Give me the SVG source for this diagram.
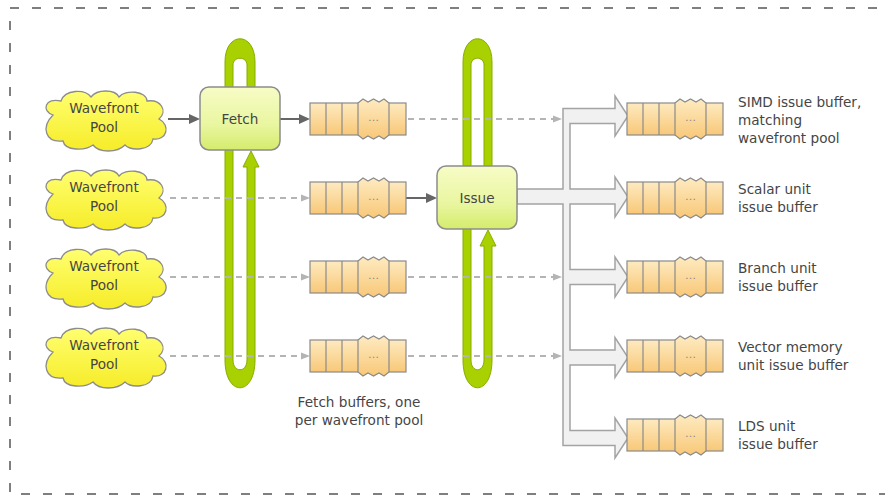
<svg xmlns="http://www.w3.org/2000/svg" xmlns:xlink="http://www.w3.org/1999/xlink" width="885" height="498" viewBox="0 0 885 498">
  <style>
    .lbl { font-family: "DejaVu Sans", "Liberation Sans", sans-serif; font-size: 13.6px; fill: #454545; }
    .ctr { text-anchor: middle; }
    .solid { stroke: #666; stroke-width: 2; fill: none; marker-end: url(#ah); }
    .dash { stroke: #b4b4b4; stroke-width: 2; stroke-dasharray: 6 5; fill: none; marker-end: url(#ahd); }
    .loop { fill: #a9d000; stroke: #86ad00; stroke-width: 1; }
    .box { fill: url(#gBox); stroke: #8c8c8c; stroke-width: 1.5; }
    .cloud { fill: url(#gCloud); stroke: #8c8c8c; stroke-width: 1.3; }
    .tree { fill: #f1f1f1; stroke: #a3a3a3; stroke-width: 1.5; stroke-linejoin: miter; }
    .cell { fill: url(#gBuf); stroke: #8a8a8a; stroke-width: 1.2; }
    .dots { font-family: "DejaVu Sans", sans-serif; font-size: 11px; fill: #8a8a8a; text-anchor: middle; }
  </style>
  <defs>
    <linearGradient id="gBox" x1="0" y1="0" x2="0" y2="1">
      <stop offset="0" stop-color="#f7fcc6"/>
      <stop offset="0.6" stop-color="#e9f6a0"/>
      <stop offset="1" stop-color="#d4ec6c"/>
    </linearGradient>
    <linearGradient id="gCloud" x1="0" y1="0" x2="0" y2="1">
      <stop offset="0" stop-color="#ffff70"/>
      <stop offset="1" stop-color="#f6ec28"/>
    </linearGradient>
    <linearGradient id="gBuf" x1="0" y1="0" x2="0" y2="1">
      <stop offset="0" stop-color="#feeac0"/>
      <stop offset="1" stop-color="#f8c878"/>
    </linearGradient>
    <marker id="ah" markerUnits="userSpaceOnUse" markerWidth="11" markerHeight="10" refX="7" refY="5" orient="auto">
      <path d="M0,0 L11,5 L0,10 Z" fill="#666"/>
    </marker>
    <marker id="ahd" markerUnits="userSpaceOnUse" markerWidth="9" markerHeight="8" refX="5" refY="4" orient="auto">
      <path d="M0,0.5 L9,4 L0,7.5 Z" fill="#b4b4b4"/>
    </marker>
    <!-- queue buffer: plain cells, a torn middle section, last cell -->
    <g id="buf">
      <rect class="cell" x="0" y="0" width="96" height="32"/>
      <line x1="16" y1="0" x2="16" y2="32" stroke="#8a8a8a" stroke-width="1.2"/>
      <line x1="32" y1="0" x2="32" y2="32" stroke="#8a8a8a" stroke-width="1.2"/>
      <polygon class="cell" points="48,0 53,-4 58,-1 63.5,-4 69,-1 74,-4 79,0 79,32 74,36 69,33 63.5,36 58,33 53,36 48,32"/>
      <text class="dots" x="63.5" y="17.5">…</text>
    </g>
    <path id="cloudShape" d="M-52,-6 C-64,-10 -60,-24 -44,-20 C-40,-32 -20,-32 -14,-24 C-8,-32 10,-32 14,-24 C20,-32 42,-30 42,-20 C56,-22 63,-10 54,-2 C66,4 62,20 48,18 C46,30 26,30 20,24 C12,32 -6,32 -12,24 C-20,30 -40,30 -42,20 C-60,22 -64,6 -52,-6 Z"/>
  </defs>

  <rect fill="#ffffff" x="0" y="0" width="885" height="498"/>
  <!-- outer frame -->
  <rect x="10" y="8" width="900" height="486" fill="none" stroke="#555" stroke-width="1.5" stroke-dasharray="9 13"/>

  <!-- recirculating loops behind the Fetch and Issue stages -->
  <g id="fetch-loop">
    <path class="loop" d="M255,110 L255,62 C255,31 225,31 225,62 L225,360 C225,397 255,397 255,360 L255,167 L259,167 L251,151 L243,167 L247,167 L247,360 C247,373 233,373 233,360 L233,65 C233,56 247,56 247,65 L247,110 Z"/>
  </g>
  <g id="issue-loop">
    <path class="loop" d="M492,185 L492,62 C492,31 463,31 463,62 L463,360 C463,397 492,397 492,360 L492,246 L496,246 L488,230 L480,246 L484,246 L484,360 C484,373 471,373 471,360 L471,65 C471,56 484,56 484,65 L484,185 Z"/>
  </g>

  <g id="connectors">
    <!-- row 1 -->
    <path class="solid" d="M168,119 L196,119"/>
    <path class="solid" d="M280,119 L306,119"/>
    <path class="dash" d="M408,119 L558,119"/>
    <!-- row 2 -->
    <path class="dash" d="M170,198 L306,198"/>
    <path class="solid" d="M406,198 L433,198"/>
    <!-- row 3 -->
    <path class="dash" d="M170,277 L306,277"/>
    <path class="dash" d="M408,277 L558,277"/>
    <!-- row 4 -->
    <path class="dash" d="M170,356 L306,356"/>
    <path class="dash" d="M408,356 L558,356"/>
    <!-- issue distribution tree -->
    <path class="tree" d="M517,189 L563,189 L563,108.5 L615,108.5 L615,96 L628,116 L615,136 L615,123.5 L570,123.5 L570,189 L615,189 L615,177 L628,197 L615,217 L615,204 L570,204 L570,269.5 L615,269.5 L615,257 L628,277 L615,297 L615,284.5 L570,284.5 L570,350 L615,350 L615,337.5 L628,357.5 L615,377.5 L615,365 L570,365 L570,430.5 L615,430.5 L615,418 L628,438 L615,458 L615,445.5 L563,445.5 L563,204 L517,204 Z"/>
  </g>

  <!-- wavefront pools -->
  <g id="pool-1">
    <use xlink:href="#cloudShape" class="cloud" transform="translate(105,121)"/>
    <text class="lbl ctr" x="104" y="113">Wavefront</text>
    <text class="lbl ctr" x="104" y="132">Pool</text>
  </g>
  <g id="pool-2">
    <use xlink:href="#cloudShape" class="cloud" transform="translate(105,200)"/>
    <text class="lbl ctr" x="104" y="192">Wavefront</text>
    <text class="lbl ctr" x="104" y="211">Pool</text>
  </g>
  <g id="pool-3">
    <use xlink:href="#cloudShape" class="cloud" transform="translate(105,279)"/>
    <text class="lbl ctr" x="104" y="271">Wavefront</text>
    <text class="lbl ctr" x="104" y="290">Pool</text>
  </g>
  <g id="pool-4">
    <use xlink:href="#cloudShape" class="cloud" transform="translate(105,358)"/>
    <text class="lbl ctr" x="104" y="350">Wavefront</text>
    <text class="lbl ctr" x="104" y="369">Pool</text>
  </g>

  <!-- pipeline stages -->
  <g id="fetch">
    <rect class="box" x="200" y="87" width="80" height="63" rx="9"/>
    <text class="lbl ctr" x="240" y="124">Fetch</text>
  </g>
  <g id="issue">
    <rect class="box" x="437" y="166" width="80" height="63" rx="9"/>
    <text class="lbl ctr" x="477" y="203">Issue</text>
  </g>

  <!-- fetch buffers -->
  <g id="fetch-buf-1"><use xlink:href="#buf" x="310" y="103"/></g>
  <g id="fetch-buf-2"><use xlink:href="#buf" x="310" y="182"/></g>
  <g id="fetch-buf-3"><use xlink:href="#buf" x="310" y="261"/></g>
  <g id="fetch-buf-4"><use xlink:href="#buf" x="310" y="340"/></g>
  <g id="fetch-buf-caption">
    <text class="lbl ctr" x="359" y="407">Fetch buffers, one</text>
    <text class="lbl ctr" x="359" y="425">per wavefront pool</text>
  </g>

  <!-- issue buffers -->
  <g id="simd-buf">
    <use xlink:href="#buf" x="627" y="103"/>
    <text class="lbl" x="738" y="107">SIMD issue buffer,</text>
    <text class="lbl" x="738" y="125">matching</text>
    <text class="lbl" x="738" y="143">wavefront pool</text>
  </g>
  <g id="scalar-buf">
    <use xlink:href="#buf" x="627" y="182"/>
    <text class="lbl" x="738" y="194">Scalar unit</text>
    <text class="lbl" x="738" y="212">issue buffer</text>
  </g>
  <g id="branch-buf">
    <use xlink:href="#buf" x="627" y="261"/>
    <text class="lbl" x="738" y="273">Branch unit</text>
    <text class="lbl" x="738" y="291">issue buffer</text>
  </g>
  <g id="vmem-buf">
    <use xlink:href="#buf" x="627" y="340"/>
    <text class="lbl" x="738" y="352">Vector memory</text>
    <text class="lbl" x="738" y="370">unit issue buffer</text>
  </g>
  <g id="lds-buf">
    <use xlink:href="#buf" x="627" y="419"/>
    <text class="lbl" x="738" y="431">LDS unit</text>
    <text class="lbl" x="738" y="449">issue buffer</text>
  </g>
</svg>
